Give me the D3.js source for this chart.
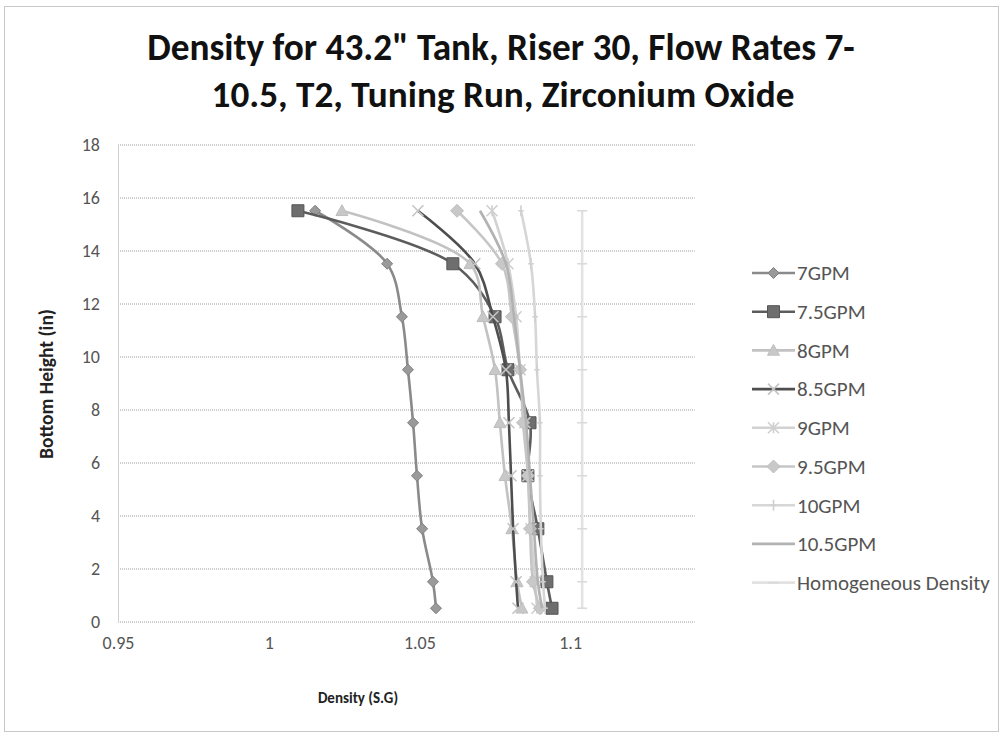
<!DOCTYPE html>
<html>
<head>
<meta charset="utf-8">
<script src="https://cdn.jsdelivr.net/npm/d3@7/dist/d3.min.js"></script>
<style>
  html, body { margin: 0; padding: 0; background: #fff; }
  svg { display: block; }
  text { font-family: Carlito, Calibri, Lato, "Open Sans", sans-serif; }
</style>
</head>
<body>
<svg id="chart" width="1002" height="735"></svg>
<script>
// ---------------- DATA ----------------
const titleLines = ["Density for 43.2\" Tank, Riser 30, Flow Rates 7-", "10.5, T2, Tuning Run, Zirconium Oxide"];
const xAxisTitle = "Density (S.G)";
const yAxisTitle = "Bottom Height (in)";
const heights = [15.5, 13.5, 11.5, 9.5, 7.5, 5.5, 3.5, 1.5, 0.5];
const seriesNames = ["7GPM", "7.5GPM", "8GPM", "8.5GPM", "9GPM", "9.5GPM", "10GPM", "10.5GPM", "Homogeneous Density"];
const d7   = [1.0154, 1.0393, 1.0442, 1.0462, 1.0479, 1.0492, 1.0509, 1.0545, 1.0555];
const d7_5 = [1.0097, 1.0611, 1.0751, 1.0794, 1.0867, 1.0860, 1.0893, 1.0923, 1.0940];
const d8   = [1.0243, 1.0668, 1.0711, 1.0751, 1.0767, 1.0784, 1.0807, 1.0824, 1.0840];
const d8_5 = [1.0495, 1.0684, 1.0744, 1.0787, 1.0797, 1.0804, 1.0811, 1.0821, 1.0827];
const d9   = [1.0741, 1.0794, 1.0821, 1.0834, 1.0850, 1.0860, 1.0870, 1.0884, 1.0890];
const d9_5 = [1.0625, 1.0774, 1.0807, 1.0834, 1.0844, 1.0860, 1.0867, 1.0877, 1.0900];
const d10  = [1.0837, 1.0870, 1.0884, 1.0890, 1.0900, 1.0900, 1.0903, 1.0910, 1.0917];
const d10_5= [1.0701, 1.0787, 1.0814, 1.0834, 1.0854, 1.0867, 1.0880, 1.0893, 1.0907];
const dHom = [1.1040, 1.1040, 1.1040, 1.1040, 1.1040, 1.1040, 1.1040, 1.1040, 1.1040];
const xTicks = [0.95, 1, 1.05, 1.1];
const xTickLabels = ["0.95", "1", "1.05", "1.1"];
const yTicks = [0, 2, 4, 6, 8, 10, 12, 14, 16, 18];
const yTickLabels = ["0", "2", "4", "6", "8", "10", "12", "14", "16", "18"];
const xDomain = [0.95, 1.14];
const yDomain = [0, 18];

// ---------------- STYLE ----------------
const styles = [
  {line: "#8a8a8a", marker: "diamond", fill: "#9a9a9a", stroke: "#808080", size: 11},
  {line: "#5c5c5c", marker: "square",  fill: "#6e6e6e", stroke: "#555",    size: 12},
  {line: "#c2c2c2", marker: "triangle",fill: "#c8c8c8", stroke: "#bdbdbd", size: 12},
  {line: "#4e4e4e", marker: "x",       fill: "none",    stroke: "#c4c4c4", size: 11},
  {line: "#d2d2d2", marker: "star",    fill: "none",    stroke: "#cfcfcf", size: 11},
  {line: "#c6c6c6", marker: "diamond", fill: "#c8c8c8", stroke: "#bfbfbf", size: 13},
  {line: "#d6d6d6", marker: "plus",    fill: "none",    stroke: "#d0d0d0", size: 11},
  {line: "#b2b2b2", marker: "none",    fill: "none",    stroke: "none",    size: 0},
  {line: "#e2e2e2", marker: "dash",    fill: "none",    stroke: "#dadada", size: 10}
];
const allData = [d7, d7_5, d8, d8_5, d9, d9_5, d10, d10_5, dHom];

const svg = d3.select("#chart");
const W = 1002, H = 735;
const plot = {left: 118, top: 144.5, bottom: 621.5};
plot.right = plot.left + (xDomain[1] - xDomain[0]) / 0.05 * 150.7;

// chart border
svg.append("rect").attr("x", 4.5).attr("y", 6.5).attr("width", W - 8).attr("height", H - 10)
  .attr("fill", "#fff").attr("stroke", "#c8c8c8").attr("stroke-width", 1);

const x = d3.scaleLinear().domain(xDomain).range([plot.left, plot.right]);
const y = d3.scaleLinear().domain(yDomain).range([plot.bottom, plot.top]);

// gridlines
const grid = svg.append("g").attr("transform", `translate(${plot.left},0)`)
  .call(d3.axisLeft(y).tickValues(yTicks).tickSize(-(plot.right - plot.left + 4)).tickFormat(""));
grid.select(".domain").remove();
grid.selectAll("line").attr("stroke", "#9a9a9a").attr("stroke-width", 1).attr("stroke-dasharray", "1,1");

// y axis line
svg.append("line").attr("x1", plot.left + 0.5).attr("x2", plot.left + 0.5)
  .attr("y1", plot.top).attr("y2", plot.bottom).attr("stroke", "#d0d0d0");

// y axis labels
const yAx = svg.append("g").attr("transform", `translate(${plot.left},0)`)
  .call(d3.axisLeft(y).tickValues(yTicks).tickSize(0).tickPadding(18)
    .tickFormat((d, i) => yTickLabels[i]));
yAx.select(".domain").remove();
yAx.selectAll("text").attr("font-size", 18).attr("fill", "#555")
  .style("font-family", "Carlito, Calibri, Lato, sans-serif");

// x axis labels
const xAx = svg.append("g").attr("transform", `translate(0,${plot.bottom})`)
  .call(d3.axisBottom(x).tickValues(xTicks).tickSize(0).tickPadding(15)
    .tickFormat((d, i) => xTickLabels[i]));
xAx.select(".domain").remove();
xAx.selectAll("text").attr("font-size", 18).attr("fill", "#555")
  .style("font-family", "Carlito, Calibri, Lato, sans-serif");

// titles
function fitWidth(sel, target) {
  const w = sel.node().getComputedTextLength();
  const fs = parseFloat(sel.attr("font-size"));
  sel.attr("font-size", fs * target / w);
}
const t1 = svg.append("text").attr("x", 501).attr("y", 60).attr("text-anchor", "middle")
  .attr("font-size", 30).attr("font-weight", "bold").attr("fill", "#111").text(titleLines[0]);
fitWidth(t1, 708);
const t2 = svg.append("text").attr("x", 503).attr("y", 107).attr("text-anchor", "middle")
  .attr("font-size", 30).attr("font-weight", "bold").attr("fill", "#111").text(titleLines[1]);
fitWidth(t2, 583);

svg.append("text").attr("x", 358).attr("y", 703).attr("text-anchor", "middle")
  .attr("font-size", 15).attr("font-weight", "bold").attr("fill", "#222").text(xAxisTitle);
const yt = svg.append("text").attr("transform", "translate(53,384) rotate(-90)").attr("text-anchor", "middle")
  .attr("font-size", 15).attr("font-weight", "bold").attr("fill", "#222").text(yAxisTitle);
fitWidth(yt, 150);

// markers
function markerPath(type, s) {
  const h = s / 2;
  switch (type) {
    case "diamond": return `M0,${-h}L${h},0L0,${h}L${-h},0Z`;
    case "square": return `M${-h},${-h}H${h}V${h}H${-h}Z`;
    case "triangle": return `M0,${-h}L${h},${h * 0.8}L${-h},${h * 0.8}Z`;
    case "x": return `M${-h},${-h}L${h},${h}M${-h},${h}L${h},${-h}`;
    case "star": return `M${-h},${-h}L${h},${h}M${-h},${h}L${h},${-h}M0,${-h}V${h}`;
    case "plus": return `M0,${-h}V${h}M${-h * 0.5},0H${h * 0.5}`;
    case "dash": return `M${-h},0H${h}`;
    default: return "";
  }
}

const line = d3.line().x(d => x(d[0])).y(d => y(d[1])).curve(d3.curveCatmullRom.alpha(0.5));
const series = svg.append("g");
allData.forEach((vals, i) => {
  const st = styles[i];
  const pts = vals.map((v, j) => [v, heights[j]]);
  const g = series.append("g");
  g.append("path").attr("d", line(pts)).attr("fill", "none")
    .attr("stroke", st.line).attr("stroke-width", i === 8 ? 2.5 : 2.6);
  if (st.marker !== "none") {
    g.selectAll("path.m").data(pts).join("path").attr("class", "m")
      .attr("transform", d => `translate(${x(d[0])},${y(d[1])})`)
      .attr("d", markerPath(st.marker, st.size))
      .attr("fill", st.fill).attr("stroke", st.stroke).attr("stroke-width", st.fill === "none" ? 1.6 : 1);
  }
});

// legend
const legend = svg.append("g");
const legY0 = 273, legStep = 38.7, legX1 = 752, legX2 = 795;
let legTexts = [];
seriesNames.forEach((name, i) => {
  const st = styles[i];
  const yy = legY0 + i * legStep;
  legend.append("line").attr("x1", legX1).attr("x2", legX2).attr("y1", yy).attr("y2", yy)
    .attr("stroke", st.line).attr("stroke-width", 2.6);
  if (st.marker !== "none") {
    legend.append("path").attr("transform", `translate(${(legX1 + legX2) / 2},${yy})`)
      .attr("d", markerPath(st.marker, st.size))
      .attr("fill", st.fill).attr("stroke", st.stroke).attr("stroke-width", st.fill === "none" ? 1.6 : 1);
  }
  const t = legend.append("text").attr("x", legX2 + 2).attr("y", yy).attr("dy", "0.35em")
    .attr("font-size", 18).attr("fill", "#555").text(name);
  legTexts.push(t);
});
// scale legend font so "Homogeneous Density" spans its reference width
const hw = legTexts[8].node().getComputedTextLength();
const lfs = 18 * 193 / hw;
legTexts.forEach(t => t.attr("font-size", lfs));
</script>
</body>
</html>
